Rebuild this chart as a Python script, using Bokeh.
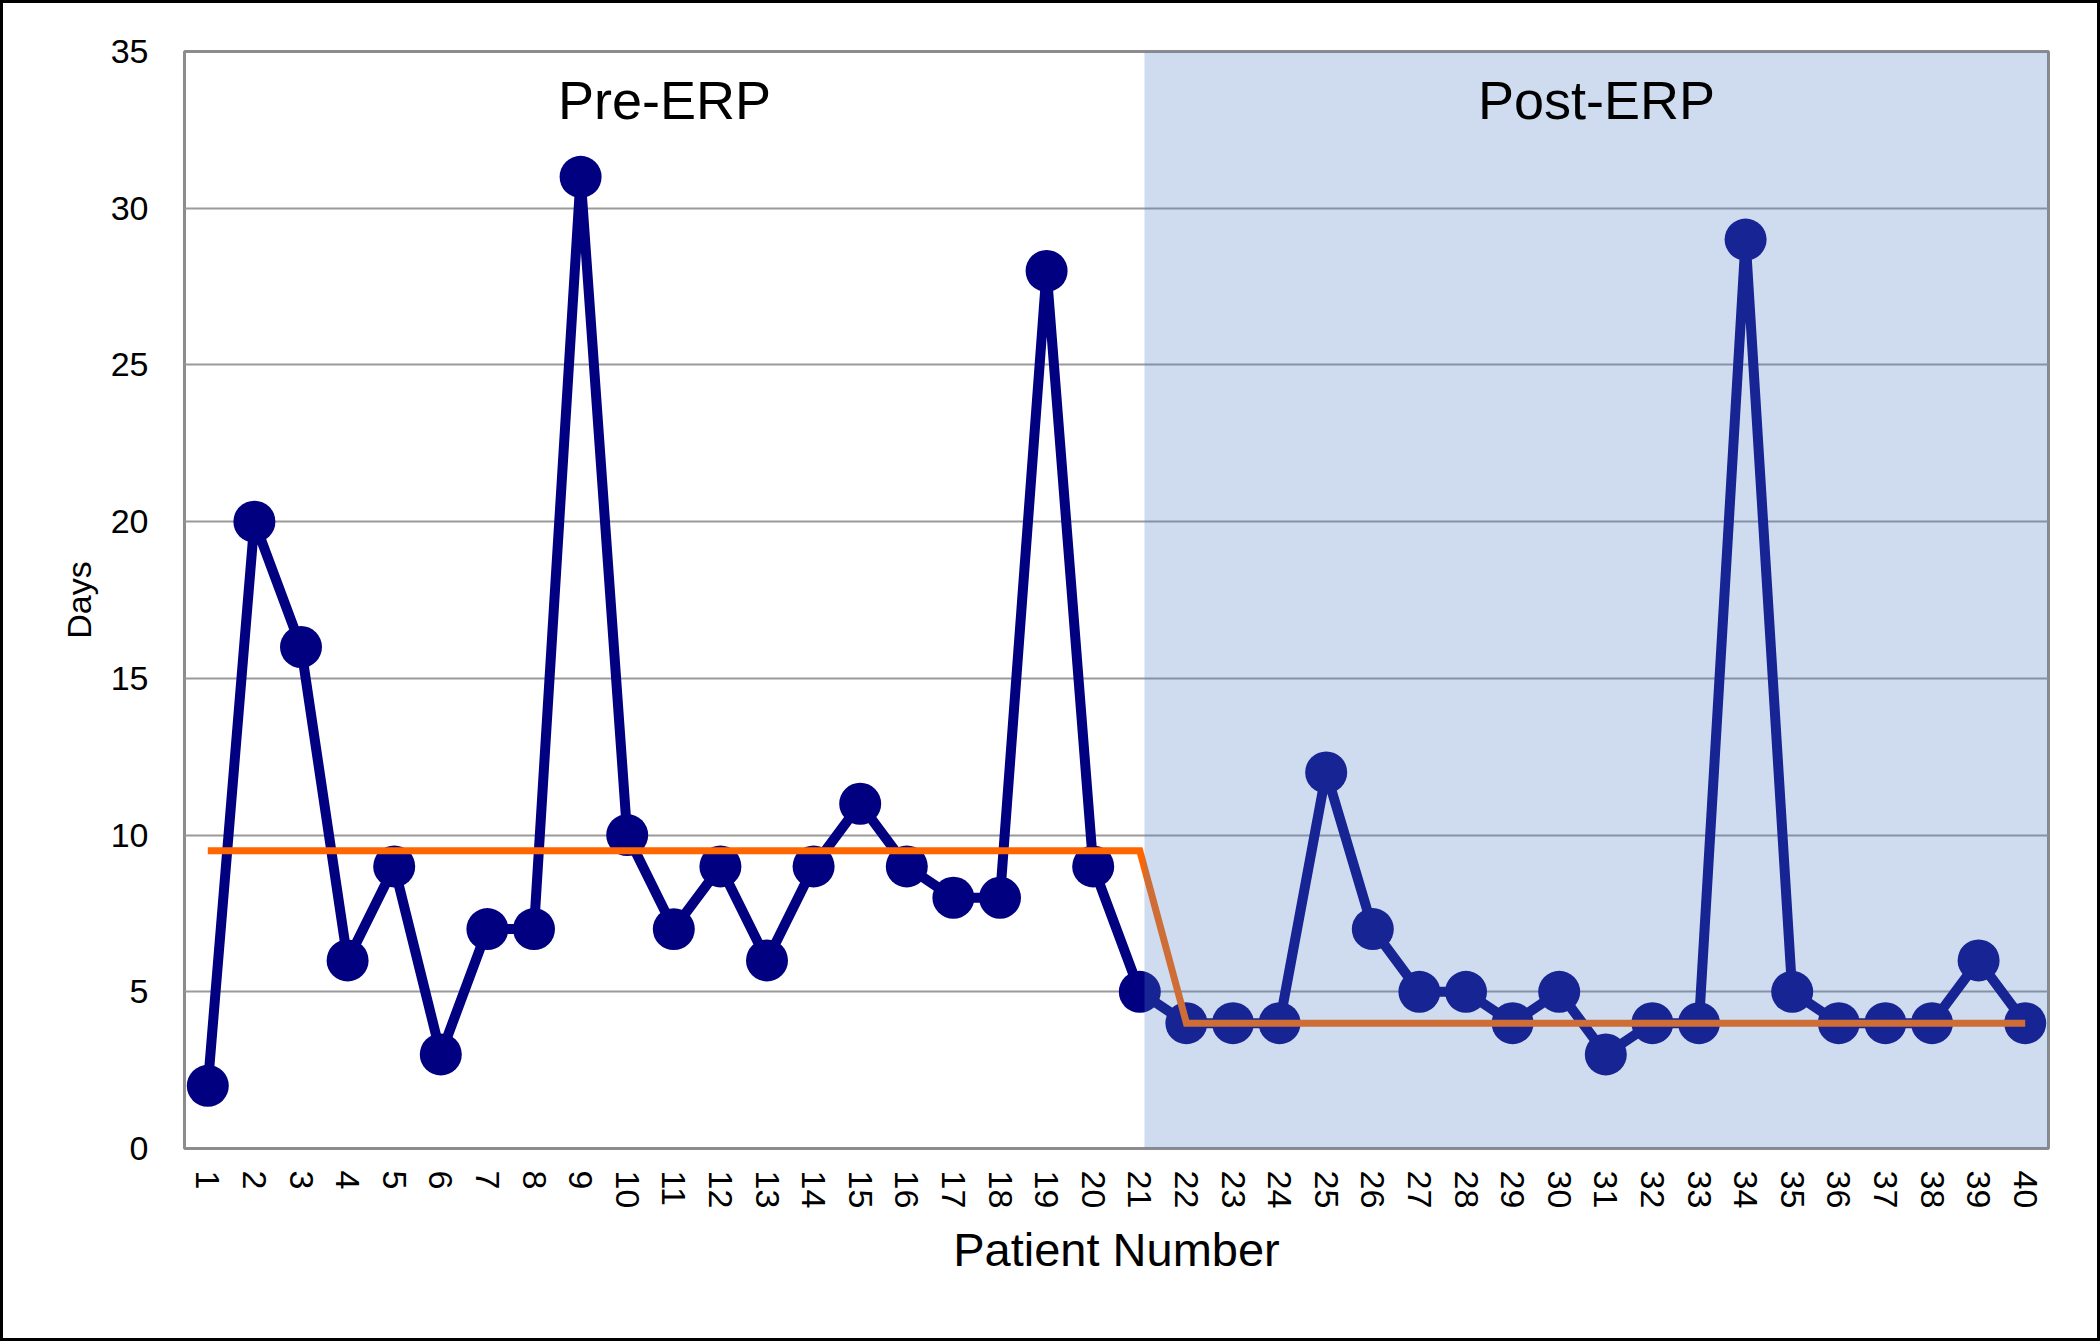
import math
from bokeh.plotting import figure
from bokeh.layouts import column
from bokeh.models import BoxAnnotation, Label, FixedTicker, Range1d, ColumnDataSource
from bokeh.embed import file_html
from bokeh.resources import INLINE

# ---- data ----
patients = list(range(1, 41))
days = [2, 20, 16, 6, 9, 3, 7, 7, 31, 10, 7, 9, 6, 9, 11, 9, 8, 8, 28, 9, 5,
        4, 4, 4, 12, 7, 5, 5, 4, 5, 3, 4, 4, 29, 5, 4, 4, 4, 6, 4]
pre_patients = [1, 21]
post_patients = [22, 40]
pre_center = 9.5
post_center = 4.0
y_ticks = [0, 5, 10, 15, 20, 25, 30, 35]
phase_labels = ["Pre-ERP", "Post-ERP"]
phase_break = 21.1

FONT = "Liberation Sans"

x_lo, x_hi = 0.5, 40.5
y_lo, y_hi = 0, 35
B = 3  # outer border width

p = figure(width=2100 - 2 * B, height=1341 - 2 * B,
           x_range=Range1d(x_lo, x_hi), y_range=Range1d(y_lo, y_hi),
           output_backend="svg", toolbar_location=None,
           min_border_left=184 - B, min_border_right=52 - B,
           min_border_top=51 - B, min_border_bottom=193 - B)
p.background_fill_color = "white"
p.border_fill_color = "white"
p.outline_line_color = "#8c8c8c"
p.outline_line_width = 3
p.outline_line_alpha = 1.0

p.xgrid.visible = False
p.ygrid.grid_line_color = "#9a9a9a"
p.ygrid.grid_line_width = 2
p.ygrid.ticker = FixedTicker(ticks=y_ticks)

for ax in (p.xaxis[0], p.yaxis[0]):
    ax.axis_line_color = None
    ax.major_tick_line_color = None
    ax.minor_tick_line_color = None
    ax.major_label_text_font = FONT
    ax.major_label_text_font_size = "34px"
    ax.major_label_text_color = "black"
    ax.axis_label_text_font = FONT
    ax.axis_label_text_font_style = "normal"
    ax.axis_label_text_color = "black"

p.xaxis.ticker = FixedTicker(ticks=patients)
p.xaxis.major_label_orientation = -math.pi / 2
p.xaxis.major_label_standoff = 16
p.xaxis.axis_label = "Patient Number"
p.xaxis.axis_label_text_font_size = "47px"
p.xaxis.axis_label_standoff = 12

p.yaxis.ticker = FixedTicker(ticks=y_ticks)
p.yaxis.major_label_standoff = 30
p.yaxis.axis_label = "Days"
p.yaxis.axis_label_text_font_size = "34px"
p.yaxis.axis_label_standoff = 10

src = ColumnDataSource(dict(x=patients, y=days))
p.line("x", "y", source=src, line_color="#000080", line_width=10)
p.scatter("x", "y", source=src, size=42, fill_color="#000080", line_color=None)

cl_x = [pre_patients[0], pre_patients[1], post_patients[0], post_patients[1]]
cl_y = [pre_center, pre_center, post_center, post_center]
p.line(cl_x, cl_y, line_color="#ff6600", line_width=7, line_join="miter")

p.add_layout(BoxAnnotation(left=phase_break, fill_color="#5482c6", fill_alpha=0.28,
                           line_color=None))

centers = [(x_lo + phase_break) / 2, (phase_break + x_hi) / 2]
for txt, cx in zip(phase_labels, centers):
    p.add_layout(Label(x=cx, y=33.45, text=txt, text_align="center",
                       text_baseline="alphabetic", text_font=FONT,
                       text_font_size="54px", text_color="black"))

page = column(p, styles={"border": f"{B}px solid black"})

open("out.html", "w").write(file_html(page, INLINE))
